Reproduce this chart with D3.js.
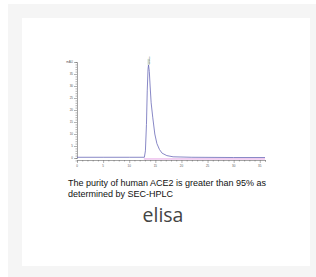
<!DOCTYPE html>
<html>
<head>
<meta charset="utf-8">
<script src="https://cdn.jsdelivr.net/npm/d3@7"></script>
<style>
  body { margin: 0; background: #fff; }
  svg { display: block; }
</style>
</head>
<body>
<div id="chart"></div>
<script>
// chromatogram (time in min, absorbance in mAU)
const times = [0, 5, 10, 12.9, 13.1, 13.3, 13.45, 13.6, 13.7, 13.85, 14.0, 14.2, 14.5, 14.9, 15.3, 15.8, 16.3, 17.2, 18.4, 22, 30, 36];
const mau = [0.3, 0.3, 0.3, 0.3, 3, 14, 28, 37, 38.8, 36, 30, 23, 17, 10, 6, 3.5, 2, 1, 0.5, 0.3, 0.2, 0.2];
const baseTimes = [12.8, 36];
const baseMau = [-0.4, -0.4];
const xTicks = [0, 5, 10, 15, 20, 25, 30, 35];
const yTicks = [0, 5, 10, 15, 20, 25, 30, 35];
const peakLabel = "13.700";
const caption = ["The purity of human ACE2 is greater than 95% as", "determined by SEC-HPLC"];
const title = "elisa";

const width = 316, height = 277;
const svg = d3.select("#chart").append("svg")
  .attr("width", width)
  .attr("height", height);

// page background and card
svg.append("rect").attr("x", 8).attr("y", 4).attr("width", 308).attr("height", 273).attr("fill", "#f5f5f5");
svg.append("rect").attr("x", 22).attr("y", 18).attr("width", 288).attr("height", 248).attr("fill", "#fff");

const x = d3.scaleLinear().domain([0, 36]).range([77, 265]);
const y = d3.scaleLinear().domain([0, 40]).range([158, 62]);

// axes
const xAxis = svg.append("g")
  .attr("transform", "translate(0,160)")
  .call(d3.axisBottom(x).tickValues(d3.range(0, 36.1, 1)).tickSize(1.5).tickFormat(""));
xAxis.selectAll(".tick line").filter(d => d % 5 === 0).attr("y2", 3);
xAxis.append("g").selectAll("text").data(xTicks).enter().append("text")
  .attr("x", d => x(d)).attr("y", 7)
  .attr("text-anchor", "middle")
  .attr("font-family", "Liberation Sans, Arial, sans-serif")
  .attr("font-size", 3)
  .attr("fill", "#555")
  .text(d => d);

const yAxis = svg.append("g")
  .attr("transform", "translate(77,0)")
  .call(d3.axisLeft(y).tickValues(d3.range(-1, 40.1, 1)).tickSize(1.5).tickFormat(""));
yAxis.selectAll(".tick line").filter(d => d % 5 === 0).attr("x2", -3);
yAxis.append("g").selectAll("text").data(yTicks).enter().append("text")
  .attr("x", -4).attr("y", d => y(d) + 1)
  .attr("text-anchor", "end")
  .attr("font-family", "Liberation Sans, Arial, sans-serif")
  .attr("font-size", 3)
  .attr("fill", "#555")
  .text(d => d);
yAxis.append("text")
  .attr("x", -4).attr("y", y(40) + 1)
  .attr("text-anchor", "end")
  .attr("font-family", "Liberation Sans, Arial, sans-serif")
  .attr("font-size", 3)
  .attr("fill", "#555")
  .text("mAU");
svg.selectAll(".domain").attr("stroke", "#666").attr("stroke-width", 0.6);
svg.selectAll(".tick line").attr("stroke", "#666").attr("stroke-width", 0.5);

// traces
const line = d3.line().x(d => x(d[0])).y(d => y(d[1]));
svg.append("path")
  .datum(d3.zip(times, mau))
  .attr("d", line)
  .attr("fill", "none")
  .attr("stroke", "#6a6ab8")
  .attr("stroke-width", 0.8);
svg.append("path")
  .datum(d3.zip(baseTimes, baseMau))
  .attr("d", line)
  .attr("fill", "none")
  .attr("stroke", "#d87ad8")
  .attr("stroke-width", 0.7);

// peak label
svg.append("rect")
  .attr("x", x(13.7) - 1).attr("y", y(38.8) - 6)
  .attr("width", 2.4).attr("height", 6)
  .attr("fill", "#cfd8cf");
svg.append("text")
  .attr("transform", `translate(${x(13.7) + 1},${y(38.8) - 0.5}) rotate(-90)`)
  .attr("font-family", "Liberation Sans, Arial, sans-serif")
  .attr("font-size", 2.5)
  .attr("fill", "#456")
  .text(peakLabel);

// caption
svg.append("g").selectAll("text").data(caption).enter().append("text")
  .attr("x", 68)
  .attr("y", (d, i) => 186 + i * 11)
  .attr("font-family", "Liberation Sans, Arial, sans-serif")
  .attr("font-size", 9)
  .attr("fill", "#111")
  .text(d => d);

svg.append("text")
  .attr("x", 163).attr("y", 222)
  .attr("text-anchor", "middle")
  .attr("font-family", "Open Sans, sans-serif")
  .attr("font-size", 19.5)
  .attr("fill", "#444")
  .text(title);
</script>
</body>
</html>
